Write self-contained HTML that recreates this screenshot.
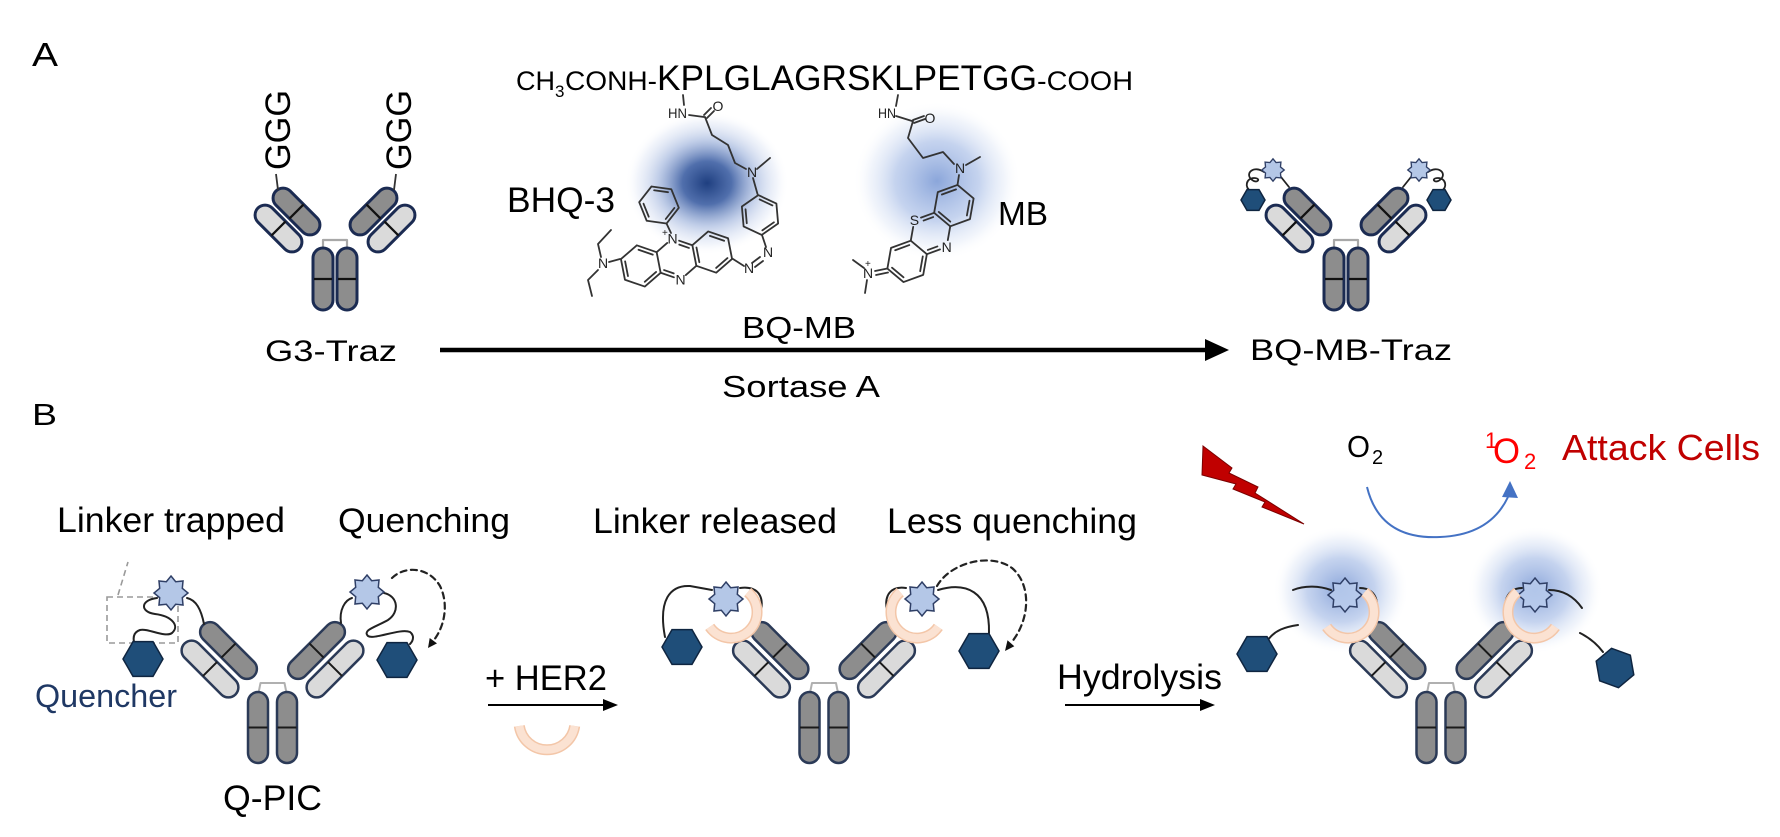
<!DOCTYPE html>
<html><head><meta charset="utf-8">
<style>
html,body{margin:0;padding:0;background:#fff;}
svg{display:block;}
text{font-family:"Liberation Sans",Arial,sans-serif;}
</style></head>
<body>
<svg width="1780" height="837" viewBox="0 0 1780 837" xmlns="http://www.w3.org/2000/svg" xmlns:xlink="http://www.w3.org/1999/xlink">
<defs>
 <radialGradient id="gDark">
  <stop offset="0" stop-color="#1f3f80" stop-opacity="1"/>
  <stop offset="0.3" stop-color="#3d5fa3" stop-opacity="0.9"/>
  <stop offset="0.6" stop-color="#8ea6d6" stop-opacity="0.55"/>
  <stop offset="0.85" stop-color="#c8d4ee" stop-opacity="0.25"/>
  <stop offset="1" stop-color="#ffffff" stop-opacity="0"/>
 </radialGradient>
 <radialGradient id="gLight">
  <stop offset="0" stop-color="#7e9cd6" stop-opacity="0.9"/>
  <stop offset="0.5" stop-color="#a6bce6" stop-opacity="0.65"/>
  <stop offset="0.8" stop-color="#d0dcf2" stop-opacity="0.3"/>
  <stop offset="1" stop-color="#ffffff" stop-opacity="0"/>
 </radialGradient>
 <path id="star" d="M0,-17 L4.68,-11.31 L12.02,-12.02 L11.31,-4.68 L17,0 L11.31,4.68 L12.02,12.02 L4.68,11.31 L0,17 L-4.68,11.31 L-12.02,12.02 L-11.31,4.68 L-17,0 L-11.31,-4.68 L-12.02,-12.02 L-4.68,-11.31 Z"/>
 <path id="hex" d="M20,0 L10,17.32 L-10,17.32 L-20,0 L-10,-17.32 L10,-17.32 Z"/>

 <g id="abB" stroke-linejoin="round">
  <polyline points="-14,10 -12,0 12,0 14,10" fill="none" stroke="#b0b0b0" stroke-width="2"/>
  <rect x="-24.5" y="9" width="20" height="71" rx="10" fill="#8d8d8d" stroke="#2b3a57" stroke-width="2.5"/>
  <rect x="4.5" y="9" width="20" height="71" rx="10" fill="#8d8d8d" stroke="#2b3a57" stroke-width="2.5"/>
  <line x1="-24" y1="44.5" x2="-5" y2="44.5" stroke="#1a1a1a" stroke-width="2"/>
  <line x1="5" y1="44.5" x2="24" y2="44.5" stroke="#1a1a1a" stroke-width="2"/>
  <g transform="translate(-44,-32.5) rotate(45)">
   <rect x="-36" y="-10" width="72" height="20" rx="10" fill="#8d8d8d" stroke="#2b3a57" stroke-width="2.5"/>
   <line x1="0" y1="-10" x2="0" y2="10" stroke="#1a1a1a" stroke-width="2"/>
  </g>
  <g transform="translate(-62.5,-14) rotate(45)">
   <rect x="-36" y="-10" width="72" height="20" rx="10" fill="#dadada" stroke="#2b3a57" stroke-width="2.5"/>
   <line x1="0" y1="-10" x2="0" y2="10" stroke="#1a1a1a" stroke-width="2"/>
  </g>
  <g transform="translate(44,-32.5) rotate(-45)">
   <rect x="-36" y="-10" width="72" height="20" rx="10" fill="#8d8d8d" stroke="#2b3a57" stroke-width="2.5"/>
   <line x1="0" y1="-10" x2="0" y2="10" stroke="#1a1a1a" stroke-width="2"/>
  </g>
  <g transform="translate(62.5,-14) rotate(-45)">
   <rect x="-36" y="-10" width="72" height="20" rx="10" fill="#dadada" stroke="#2b3a57" stroke-width="2.5"/>
   <line x1="0" y1="-10" x2="0" y2="10" stroke="#1a1a1a" stroke-width="2"/>
  </g>
 </g>

 <g id="abA" stroke-linejoin="round">
  <polyline points="-12,9 -12,0 12,0 12,9" fill="none" stroke="#a8a8a8" stroke-width="2.2"/>
  <rect x="-22" y="8" width="20" height="62" rx="10" fill="#8d8d8d" stroke="#1b2b52" stroke-width="3"/>
  <rect x="2" y="8" width="20" height="62" rx="10" fill="#8d8d8d" stroke="#1b2b52" stroke-width="3"/>
  <line x1="-21" y1="39" x2="-3" y2="39" stroke="#111" stroke-width="2.2"/>
  <line x1="3" y1="39" x2="21" y2="39" stroke="#111" stroke-width="2.2"/>
  <g transform="translate(-38.5,-28.5) rotate(45)">
   <rect x="-29" y="-10" width="58" height="20" rx="10" fill="#8d8d8d" stroke="#1b2b52" stroke-width="3"/>
   <line x1="0" y1="-10" x2="0" y2="10" stroke="#111" stroke-width="2.2"/>
  </g>
  <g transform="translate(-56.5,-11.5) rotate(45)">
   <rect x="-29" y="-10" width="58" height="20" rx="10" fill="#dadada" stroke="#1b2b52" stroke-width="3"/>
   <line x1="0" y1="-10" x2="0" y2="10" stroke="#111" stroke-width="2.2"/>
  </g>
  <g transform="translate(38.5,-28.5) rotate(-45)">
   <rect x="-29" y="-10" width="58" height="20" rx="10" fill="#8d8d8d" stroke="#1b2b52" stroke-width="3"/>
   <line x1="0" y1="-10" x2="0" y2="10" stroke="#111" stroke-width="2.2"/>
  </g>
  <g transform="translate(56.5,-11.5) rotate(-45)">
   <rect x="-29" y="-10" width="58" height="20" rx="10" fill="#dadada" stroke="#1b2b52" stroke-width="3"/>
   <line x1="0" y1="-10" x2="0" y2="10" stroke="#111" stroke-width="2.2"/>
  </g>
 </g>

 <g id="tri" fill="none" stroke="#333" stroke-width="1.8" stroke-linecap="round" stroke-linejoin="round">
  <path d="M-6.06,-17.5 L-18.19,-10.5 M6.06,-17.5 L18.19,-10.5 M-6.06,17.5 L-18.19,10.5 M6.06,17.5 L18.19,10.5"/>
  <path d="M-18.19,-10.5 L-18.19,10.5 M18.19,-10.5 L18.19,10.5"/>
  <path d="M-18.19,-10.5 L-36.37,-21 L-54.56,-10.5 L-54.56,10.5 L-36.37,21 L-18.19,10.5"/>
  <path d="M18.19,-10.5 L36.37,-21 L54.56,-10.5 L54.56,10.5 L36.37,21 L18.19,10.5"/>
  <path d="M-22.5,-8.8 L-35.5,-16.3 M-50.9,-7.5 L-50.9,7.5 M-35.5,16.3 L-22.5,8.8 M37.2,-16.3 L50.2,-8.8 M50.2,8.8 L37.2,16.3 M21.8,-7.5 L21.8,7.5 M5.5,-13.6 L14.3,-8.5 M-14.3,8.5 L-5.5,13.6"/>
 </g>
 <g id="benz" fill="none" stroke="#333" stroke-width="1.8" stroke-linejoin="round" stroke-linecap="round">
  <path d="M0,-20 L17.32,-10 L17.32,10 L0,20 L-17.32,10 L-17.32,-10 Z"/>
  <path d="M1,-15.5 L13.2,-8.5 M13.2,8.5 L1,15.5 M-13.9,7 L-13.9,-7"/>
 </g>
</defs>

<!-- ================= SECTION A ================= -->
<text x="32" y="66" font-size="33" textLength="26" lengthAdjust="spacingAndGlyphs">A</text>

<use href="#abA" xlink:href="#abA" transform="translate(335,240)"/>
<line x1="276" y1="174" x2="278" y2="190" stroke="#333" stroke-width="1.8"/>
<line x1="396" y1="174" x2="394" y2="190" stroke="#333" stroke-width="1.8"/>
<text transform="translate(290,170) rotate(-90)" font-size="35" textLength="80" lengthAdjust="spacingAndGlyphs">GGG</text>
<text transform="translate(411,170) rotate(-90)" font-size="35" textLength="80" lengthAdjust="spacingAndGlyphs">GGG</text>
<text x="265" y="361" font-size="30" textLength="132" lengthAdjust="spacingAndGlyphs">G3-Traz</text>

<text x="516" y="90" font-size="27" textLength="39" lengthAdjust="spacingAndGlyphs">CH</text>
<text x="555" y="97" font-size="17">3</text>
<text x="565" y="90" font-size="27" textLength="92" lengthAdjust="spacingAndGlyphs">CONH-</text>
<text x="657" y="90" font-size="35" textLength="380" lengthAdjust="spacingAndGlyphs">KPLGLAGRSKLPETGG</text>
<text x="1037" y="90" font-size="27" textLength="96" lengthAdjust="spacingAndGlyphs">-COOH</text>

<ellipse cx="707" cy="183" rx="82" ry="72" fill="url(#gDark)"/>
<ellipse cx="937" cy="181" rx="84" ry="80" fill="url(#gLight)"/>

<!-- BHQ-3 structure -->
<use href="#tri" xlink:href="#tri" transform="translate(676.5,259) rotate(-11)"/>
<use href="#benz" xlink:href="#benz" transform="translate(659,205) rotate(-22)"/>
<use href="#benz" xlink:href="#benz" transform="translate(760,215) rotate(-5)"/>
<g fill="none" stroke="#333" stroke-width="1.8" stroke-linecap="round" stroke-linejoin="round">
 <path d="M683,95 L684,105"/>
 <path d="M689,115 L704,117"/>
 <path d="M704,115 L711,108 M707,118 L714,111"/>
 <path d="M705,117 L712,135 L728,145 L735,163 L746,169"/>
 <path d="M757,169 L770,158"/>
 <path d="M753,178 L757.5,194"/>
 <path d="M762,235 L766,247"/>
 <path d="M760,257 L752,263 M763,261 L755,267"/>
 <path d="M744,266 L733,259"/>
 <path d="M671,233 L666.5,223.5"/>
 <path d="M609,262 L620,259"/>
 <path d="M601,257 L598,244 L611,230"/>
 <path d="M598,270 L588,280 L592,296"/>
</g>
<g font-size="14" fill="#222">
 <text x="668" y="118" textLength="19" lengthAdjust="spacingAndGlyphs">HN</text>
 <text x="712.5" y="111">O</text>
 <text x="747" y="177">N</text>
 <text x="667.5" y="243.5">N</text>
 <text x="662" y="236" font-size="10">+</text>
 <text x="675.5" y="284.5">N</text>
 <text x="598" y="268">N</text>
 <text x="744" y="273">N</text>
 <text x="763" y="257">N</text>
</g>
<text x="507" y="212" font-size="35" textLength="108" lengthAdjust="spacingAndGlyphs">BHQ-3</text>

<!-- MB structure -->
<use href="#tri" xlink:href="#tri" transform="translate(930.5,233.5) rotate(-50)"/>
<g fill="none" stroke="#333" stroke-width="1.8" stroke-linecap="round" stroke-linejoin="round">
 <path d="M898,95 L896,106"/>
 <path d="M896,116 L912,121"/>
 <path d="M913,120 L924,116 M914,123 L925,119"/>
 <path d="M913,121 L908,138 L923,158 L943,152 L954,164"/>
 <path d="M966,165 L980,157"/>
 <path d="M959,175 L957.5,185"/>
 <path d="M887.4,268.5 L875,271 M888,272.5 L876,275"/>
 <path d="M864,268 L853,260"/>
 <path d="M867,280 L865,293"/>
</g>
<g font-size="14" fill="#222">
 <text x="878" y="118" textLength="18" lengthAdjust="spacingAndGlyphs">HN</text>
 <text x="924.5" y="123">O</text>
 <text x="955" y="173">N</text>
 <text x="909.7" y="225">S</text>
 <text x="941.6" y="252">N</text>
 <text x="863" y="278">N</text>
 <text x="865" y="267" font-size="10">+</text>
</g>
<text x="998" y="225" font-size="33" textLength="50" lengthAdjust="spacingAndGlyphs">MB</text>

<line x1="440" y1="350" x2="1208" y2="350" stroke="#000" stroke-width="4.5"/>
<polygon points="1205,339 1229,350 1205,361" fill="#000"/>
<text x="742" y="338" font-size="31" textLength="114" lengthAdjust="spacingAndGlyphs">BQ-MB</text>
<text x="722" y="397" font-size="31" textLength="158" lengthAdjust="spacingAndGlyphs">Sortase A</text>

<use href="#abA" xlink:href="#abA" transform="translate(1346,240)"/>
<g fill="none" stroke="#222" stroke-width="1.8" stroke-linecap="round">
 <path d="M1281,177 L1289,187"/>
 <path d="M1264,172 C1254,165 1245,173 1251,179 C1257,185 1262,178 1254,178 C1246,178 1244,188 1251,191"/>
 <path d="M1411,177 L1403,187"/>
 <path d="M1428,172 C1438,165 1447,173 1441,179 C1435,185 1430,178 1438,178 C1446,178 1448,188 1441,191"/>
</g>
<use href="#star" xlink:href="#star" transform="translate(1273,170) scale(0.66)" fill="#b4c7e7" stroke="#2f3f66" stroke-width="2"/>
<use href="#star" xlink:href="#star" transform="translate(1419,170) scale(0.66)" fill="#b4c7e7" stroke="#2f3f66" stroke-width="2"/>
<use href="#hex" xlink:href="#hex" transform="translate(1253,200) scale(0.6)" fill="#1f4e79" stroke="#0f2540" stroke-width="2.5"/>
<use href="#hex" xlink:href="#hex" transform="translate(1439,200) scale(0.6)" fill="#1f4e79" stroke="#0f2540" stroke-width="2.5"/>
<text x="1250" y="360" font-size="30" textLength="202" lengthAdjust="spacingAndGlyphs">BQ-MB-Traz</text>

<!-- ================= SECTION B ================= -->
<text x="32" y="425" font-size="31" textLength="25" lengthAdjust="spacingAndGlyphs">B</text>

<text x="57" y="532" font-size="35" textLength="228" lengthAdjust="spacingAndGlyphs">Linker trapped</text>
<text x="338" y="532" font-size="34" textLength="172" lengthAdjust="spacingAndGlyphs">Quenching</text>
<text x="593" y="533" font-size="35" textLength="244" lengthAdjust="spacingAndGlyphs">Linker released</text>
<text x="887" y="533" font-size="35" textLength="250" lengthAdjust="spacingAndGlyphs">Less quenching</text>

<use href="#abB" xlink:href="#abB" transform="translate(272.5,683)"/>
<rect x="107" y="597" width="71" height="46" fill="none" stroke="#9a9a9a" stroke-width="1.6" stroke-dasharray="6,4"/>
<line x1="118" y1="595" x2="128" y2="562" stroke="#9a9a9a" stroke-width="1.6" stroke-dasharray="6,4"/>
<g fill="none" stroke="#222" stroke-width="2" stroke-linecap="round">
 <path d="M204,624 C201,609 196,600 187,598"/>
 <path d="M157,598 C140,600 140,612 155,614 C172,616 180,626 172,633 C165,638 148,628 140,630 C134,632 133,637 134,642"/>
 <path d="M341,623 C339,610 345,600 352,598"/>
 <path d="M384,593 C398,596 400,612 388,620 C376,627 362,630 368,636 C374,640 400,628 410,632 C414,635 414,640 410,644"/>
 <path d="M392,578 C404,566 428,566 440,586 C448,602 446,624 434,640" stroke-dasharray="6,4.5" stroke-width="2.2"/>
</g>
<polygon points="428,648 437,643.4 429.7,638" fill="#111"/>
<use href="#star" xlink:href="#star" transform="translate(171,593)" fill="#b4c7e7" stroke="#2f3f66" stroke-width="1.5"/>
<use href="#star" xlink:href="#star" transform="translate(367,592)" fill="#b4c7e7" stroke="#2f3f66" stroke-width="1.5"/>
<use href="#hex" xlink:href="#hex" transform="translate(143,659)" fill="#1f4e79" stroke="#0f2540" stroke-width="1.5"/>
<use href="#hex" xlink:href="#hex" transform="translate(397,660)" fill="#1f4e79" stroke="#0f2540" stroke-width="1.5"/>
<text x="35" y="707" font-size="32" fill="#1f3864" textLength="142" lengthAdjust="spacingAndGlyphs">Quencher</text>
<text x="223" y="810" font-size="35" textLength="99" lengthAdjust="spacingAndGlyphs">Q-PIC</text>

<text x="485" y="690" font-size="35" textLength="122" lengthAdjust="spacingAndGlyphs">+ HER2</text>
<line x1="488" y1="705" x2="606" y2="705" stroke="#000" stroke-width="2"/>
<polygon points="603,699 618,705 603,711" fill="#000"/>
<path d="M574.7,725.9 A28,28 0 0 1 519.3,725.9" fill="none" stroke="#f3c6a8" stroke-width="11"/>
<path d="M574.7,725.9 A28,28 0 0 1 519.3,725.9" fill="none" stroke="#fbe2d2" stroke-width="8"/>

<use href="#abB" xlink:href="#abB" transform="translate(824,683)"/>
<g fill="none" stroke="#222" stroke-width="2" stroke-linecap="round">
 <path d="M665,637 C658,600 670,585 690,586 L712,590"/>
 <path d="M740,588 C760,585 768,600 756,622"/>
 <path d="M938,590 C965,582 990,590 989,633"/>
 <path d="M906,588 C888,585 880,600 892,622"/>
 <path d="M937,586 C950,563 990,552 1012,568 C1032,585 1030,620 1011,643" stroke-dasharray="6,4.5" stroke-width="2.2"/>
</g>
<polygon points="1005,651 1014.3,646.2 1007.5,640.2" fill="#111"/>
<use href="#star" xlink:href="#star" transform="translate(726,599)" fill="#b4c7e7" stroke="#2f3f66" stroke-width="1.5"/>
<use href="#star" xlink:href="#star" transform="translate(922,599)" fill="#b4c7e7" stroke="#2f3f66" stroke-width="1.5"/>
<path d="M747.7,592.1 A26,26 0 1 1 709.7,626.9" fill="none" stroke="#f3c6a8" stroke-width="11"/>
<path d="M747.7,592.1 A26,26 0 1 1 709.7,626.9" fill="none" stroke="#fbe2d2" stroke-width="8"/>
<path d="M938.3,626.9 A26,26 0 1 1 900.3,592.1" fill="none" stroke="#f3c6a8" stroke-width="11"/>
<path d="M938.3,626.9 A26,26 0 1 1 900.3,592.1" fill="none" stroke="#fbe2d2" stroke-width="8"/>
<use href="#hex" xlink:href="#hex" transform="translate(682,647)" fill="#1f4e79" stroke="#0f2540" stroke-width="1.5"/>
<use href="#hex" xlink:href="#hex" transform="translate(979,651)" fill="#1f4e79" stroke="#0f2540" stroke-width="1.5"/>

<text x="1057" y="689" font-size="35" textLength="165" lengthAdjust="spacingAndGlyphs">Hydrolysis</text>
<line x1="1065" y1="705" x2="1203" y2="705" stroke="#000" stroke-width="2"/>
<polygon points="1200,699 1215,705 1200,711" fill="#000"/>

<polygon points="1203,446 1232,468 1229,473 1258,487 1255,493 1304,524 1262,507 1265,502 1233,489 1236,484 1202,475" fill="#c00000" stroke="#7a0000" stroke-width="1"/>

<text x="1347" y="457" font-size="31" textLength="23" lengthAdjust="spacingAndGlyphs">O</text>
<text x="1372" y="464" font-size="20">2</text>
<path d="M1367,487 Q1380,540 1440,537 Q1490,535 1508,497" fill="none" stroke="#4472c4" stroke-width="2"/>
<polygon points="1502,497 1510,481 1518,498" fill="#4472c4"/>
<text x="1485" y="448" font-size="22" fill="#ff0000">1</text>
<text x="1493" y="463" font-size="35" fill="#ff0000" textLength="27" lengthAdjust="spacingAndGlyphs">O</text>
<text x="1524" y="469" font-size="22" fill="#ff0000">2</text>
<text x="1562" y="460" font-size="36" fill="#c00000" textLength="198" lengthAdjust="spacingAndGlyphs">Attack Cells</text>

<ellipse cx="1341" cy="590" rx="68" ry="64" fill="url(#gLight)"/>
<ellipse cx="1535" cy="590" rx="68" ry="64" fill="url(#gLight)"/>
<use href="#abB" xlink:href="#abB" transform="translate(1441,683)"/>
<g fill="none" stroke="#222" stroke-width="2" stroke-linecap="round">
 <path d="M1293,590 C1305,585 1320,586 1331,590"/>
 <path d="M1360,588 C1378,588 1382,608 1371,622"/>
 <path d="M1268,640 C1275,630 1285,627 1298,625"/>
 <path d="M1522,588 C1505,588 1500,608 1511,622"/>
 <path d="M1549,590 C1565,590 1575,598 1582,608"/>
 <path d="M1580,633 C1590,638 1597,644 1603,652"/>
</g>
<use href="#star" xlink:href="#star" transform="translate(1345,595)" fill="#b9cbec" fill-opacity="0.85" stroke="#2f3f66" stroke-width="1.5"/>
<use href="#star" xlink:href="#star" transform="translate(1535,595)" fill="#b9cbec" fill-opacity="0.85" stroke="#2f3f66" stroke-width="1.5"/>
<path d="M1364.7,592.1 A26,26 0 1 1 1326.7,626.9" fill="none" stroke="#f3c6a8" stroke-width="11"/>
<path d="M1364.7,592.1 A26,26 0 1 1 1326.7,626.9" fill="none" stroke="#fbe2d2" stroke-width="8"/>
<path d="M1555.3,626.9 A26,26 0 1 1 1517.3,592.1" fill="none" stroke="#f3c6a8" stroke-width="11"/>
<path d="M1555.3,626.9 A26,26 0 1 1 1517.3,592.1" fill="none" stroke="#fbe2d2" stroke-width="8"/>
<use href="#hex" xlink:href="#hex" transform="translate(1257,654)" fill="#1f4e79" stroke="#0f2540" stroke-width="1.5"/>
<use href="#hex" xlink:href="#hex" transform="translate(1615,668) rotate(20)" fill="#1f4e79" stroke="#0f2540" stroke-width="1.5"/>
</svg>
</body></html>
